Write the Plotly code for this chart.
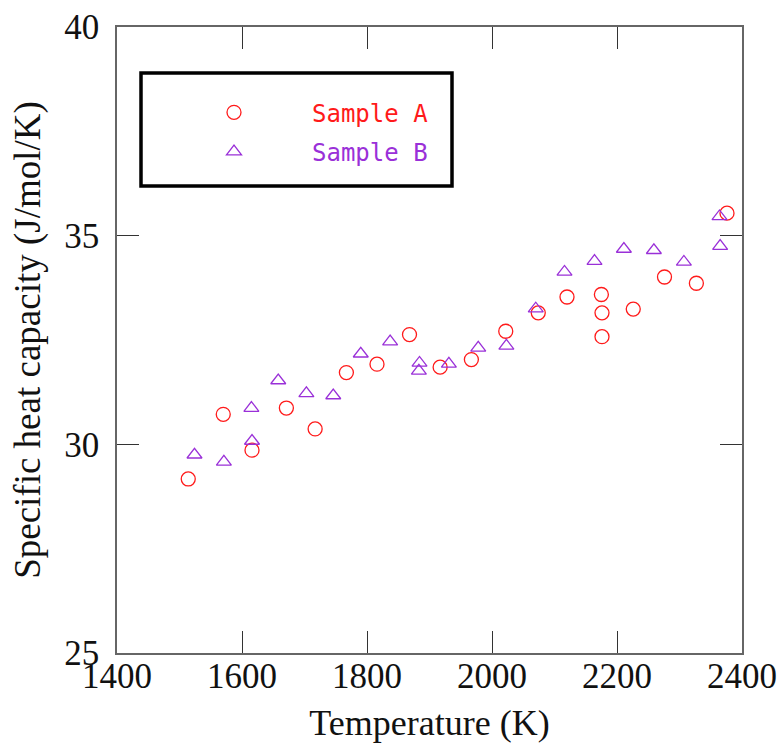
import plotly.graph_objects as go

# Sample A (circles)
temp_a = [1514, 1570, 1616, 1671, 1717, 1767, 1816, 1868, 1917, 1967, 2022, 2074,
          2120, 2175, 2176, 2176, 2226, 2276, 2327, 2376]
cp_a = [29.17, 30.72, 29.86, 30.87, 30.37, 31.72, 31.92, 32.63, 31.85, 32.03, 32.71, 33.15,
        33.53, 33.59, 33.15, 32.58, 33.24, 34.01, 33.86, 35.54]

# Sample B (triangles)
temp_b = [1524, 1571, 1616, 1615, 1658, 1703, 1746, 1790, 1837, 1884, 1883, 1931,
          1978, 2023, 2070, 2116, 2164, 2211, 2259, 2307, 2364, 2365]
cp_b = [29.75, 29.58, 30.08, 30.87, 31.53, 31.22, 31.17, 32.17, 32.46, 31.95, 31.76, 31.93,
        32.31, 32.36, 33.25, 34.13, 34.39, 34.68, 34.65, 34.37, 35.46, 34.75]

x_range = [1400, 2400]
y_range = [25, 40]
x_ticks = [1400, 1600, 1800, 2000, 2200, 2400]
y_ticks = [25, 30, 35, 40]

RED = "#ff1a1a"
PURPLE = "#9a30d8"

fig = go.Figure()
fig.add_trace(go.Scatter(
    x=temp_a, y=cp_a, mode="markers", legendgroup="a",
    name=f"<span style='color:{RED}'>Sample A</span>",
    marker=dict(symbol="circle-open", size=14, color=RED, line=dict(width=1.3, color=RED)),
))
fig.add_trace(go.Scatter(
    x=temp_b, y=cp_b, mode="markers", legendgroup="b",
    name=f"<span style='color:{PURPLE}'>Sample B</span>",
    marker=dict(symbol="triangle-up-open", size=13, color=PURPLE, line=dict(width=1.3, color=PURPLE)),
))

axis_common = dict(
    showline=True, linecolor="#666666", linewidth=1.5, mirror="ticks",
    ticks="inside", ticklen=22, tickwidth=1.2, tickcolor="#333333",
    showgrid=False, zeroline=False, automargin=False,
    tickfont=dict(family="Liberation Serif", size=35, color="#111111"),
)

fig.update_xaxes(range=x_range, tickvals=x_ticks, ticktext=[str(v) for v in x_ticks],
                 ticklabelstandoff=-9,
                 title=dict(text="Temperature (K)", font=dict(family="Liberation Serif", size=36, color="#111111"), standoff=16),
                 **axis_common)
fig.update_yaxes(range=y_range, tickvals=y_ticks, ticktext=[str(v) for v in y_ticks],
                 ticklabelstandoff=9,
                 title=dict(text="Specific heat capacity (J/mol/K)", font=dict(family="Liberation Serif", size=37, color="#111111"), standoff=12),
                 **axis_common)

fig.add_shape(type="rect", xref="paper", yref="paper",
              x0=0.0384, x1=0.536, y0=0.746, y1=0.9265,
              line=dict(color="black", width=3.5), fillcolor="rgba(0,0,0,0)")

fig.update_layout(
    width=782, height=743,
    margin=dict(l=117, r=40, t=27, b=90, autoexpand=False),
    paper_bgcolor="white", plot_bgcolor="white",
    showlegend=True,
    legend=dict(
        x=0.0624, y=0.899, xanchor="left", yanchor="top",
        bgcolor="rgba(0,0,0,0)", borderwidth=0,
        itemwidth=146, traceorder="grouped", tracegroupgap=5,
        font=dict(family="DejaVu Sans Mono", size=24),
    ),
)

fig.write_html("out.html")
